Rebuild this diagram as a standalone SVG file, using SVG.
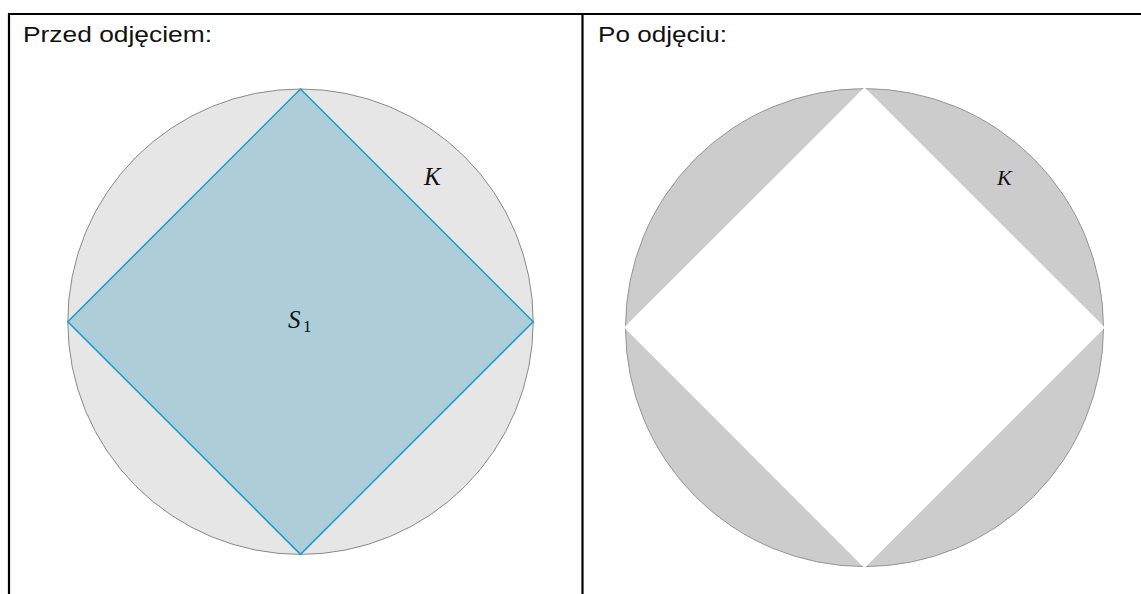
<svg xmlns="http://www.w3.org/2000/svg" width="1141" height="594" viewBox="0 0 1141 594">
<style>
.border{stroke:#000;stroke-width:2.2;fill:none}
.title{font-family:"Liberation Sans","Open Sans",sans-serif;font-size:22px;fill:#111}
.math{font-family:"Liberation Serif","DejaVu Serif",serif;font-style:italic;fill:#111}
.sub{font-family:"Liberation Serif","DejaVu Serif",serif;font-style:normal;fill:#111}
</style>
<rect width="1141" height="594" fill="#fff"/>
<g id="table">
<line class="border" x1="9" y1="14" x2="1141" y2="14"/>
<line class="border" x1="9" y1="13" x2="9" y2="594"/>
<line class="border" x1="582.5" y1="13" x2="582.5" y2="594"/>
</g>
<text class="title" x="23" y="42" textLength="189" lengthAdjust="spacingAndGlyphs">Przed odjęciem:</text>
<text class="title" x="598" y="42" textLength="129" lengthAdjust="spacingAndGlyphs">Po odjęciu:</text>
<g id="before">
<circle cx="300.5" cy="321.7" r="232.7" fill="#e6e6e6" stroke="#8a8a8a" stroke-width="1"/>
<polygon points="300.5,89 533.2,321.7 300.5,554.4 67.8,321.7" fill="#adcdd8" stroke="#1a9cce" stroke-width="1.5" stroke-linejoin="miter"/>
<text class="math" x="288" y="328" font-size="25">S</text>
<text class="sub" x="303" y="332" font-size="17">1</text>
<text class="math" x="424" y="185" font-size="25">K</text>
</g>
<g id="after">
<circle cx="864.5" cy="327.6" r="239" fill="#cccccc" stroke="#959595" stroke-width="1"/>
<polygon points="864.5,88.6 1103.5,327.6 864.5,566.6 625.5,327.6" fill="#fff" stroke="#fff" stroke-width="2"/>
<text class="math" x="997" y="185" font-size="22">K</text>
</g>
</svg>
